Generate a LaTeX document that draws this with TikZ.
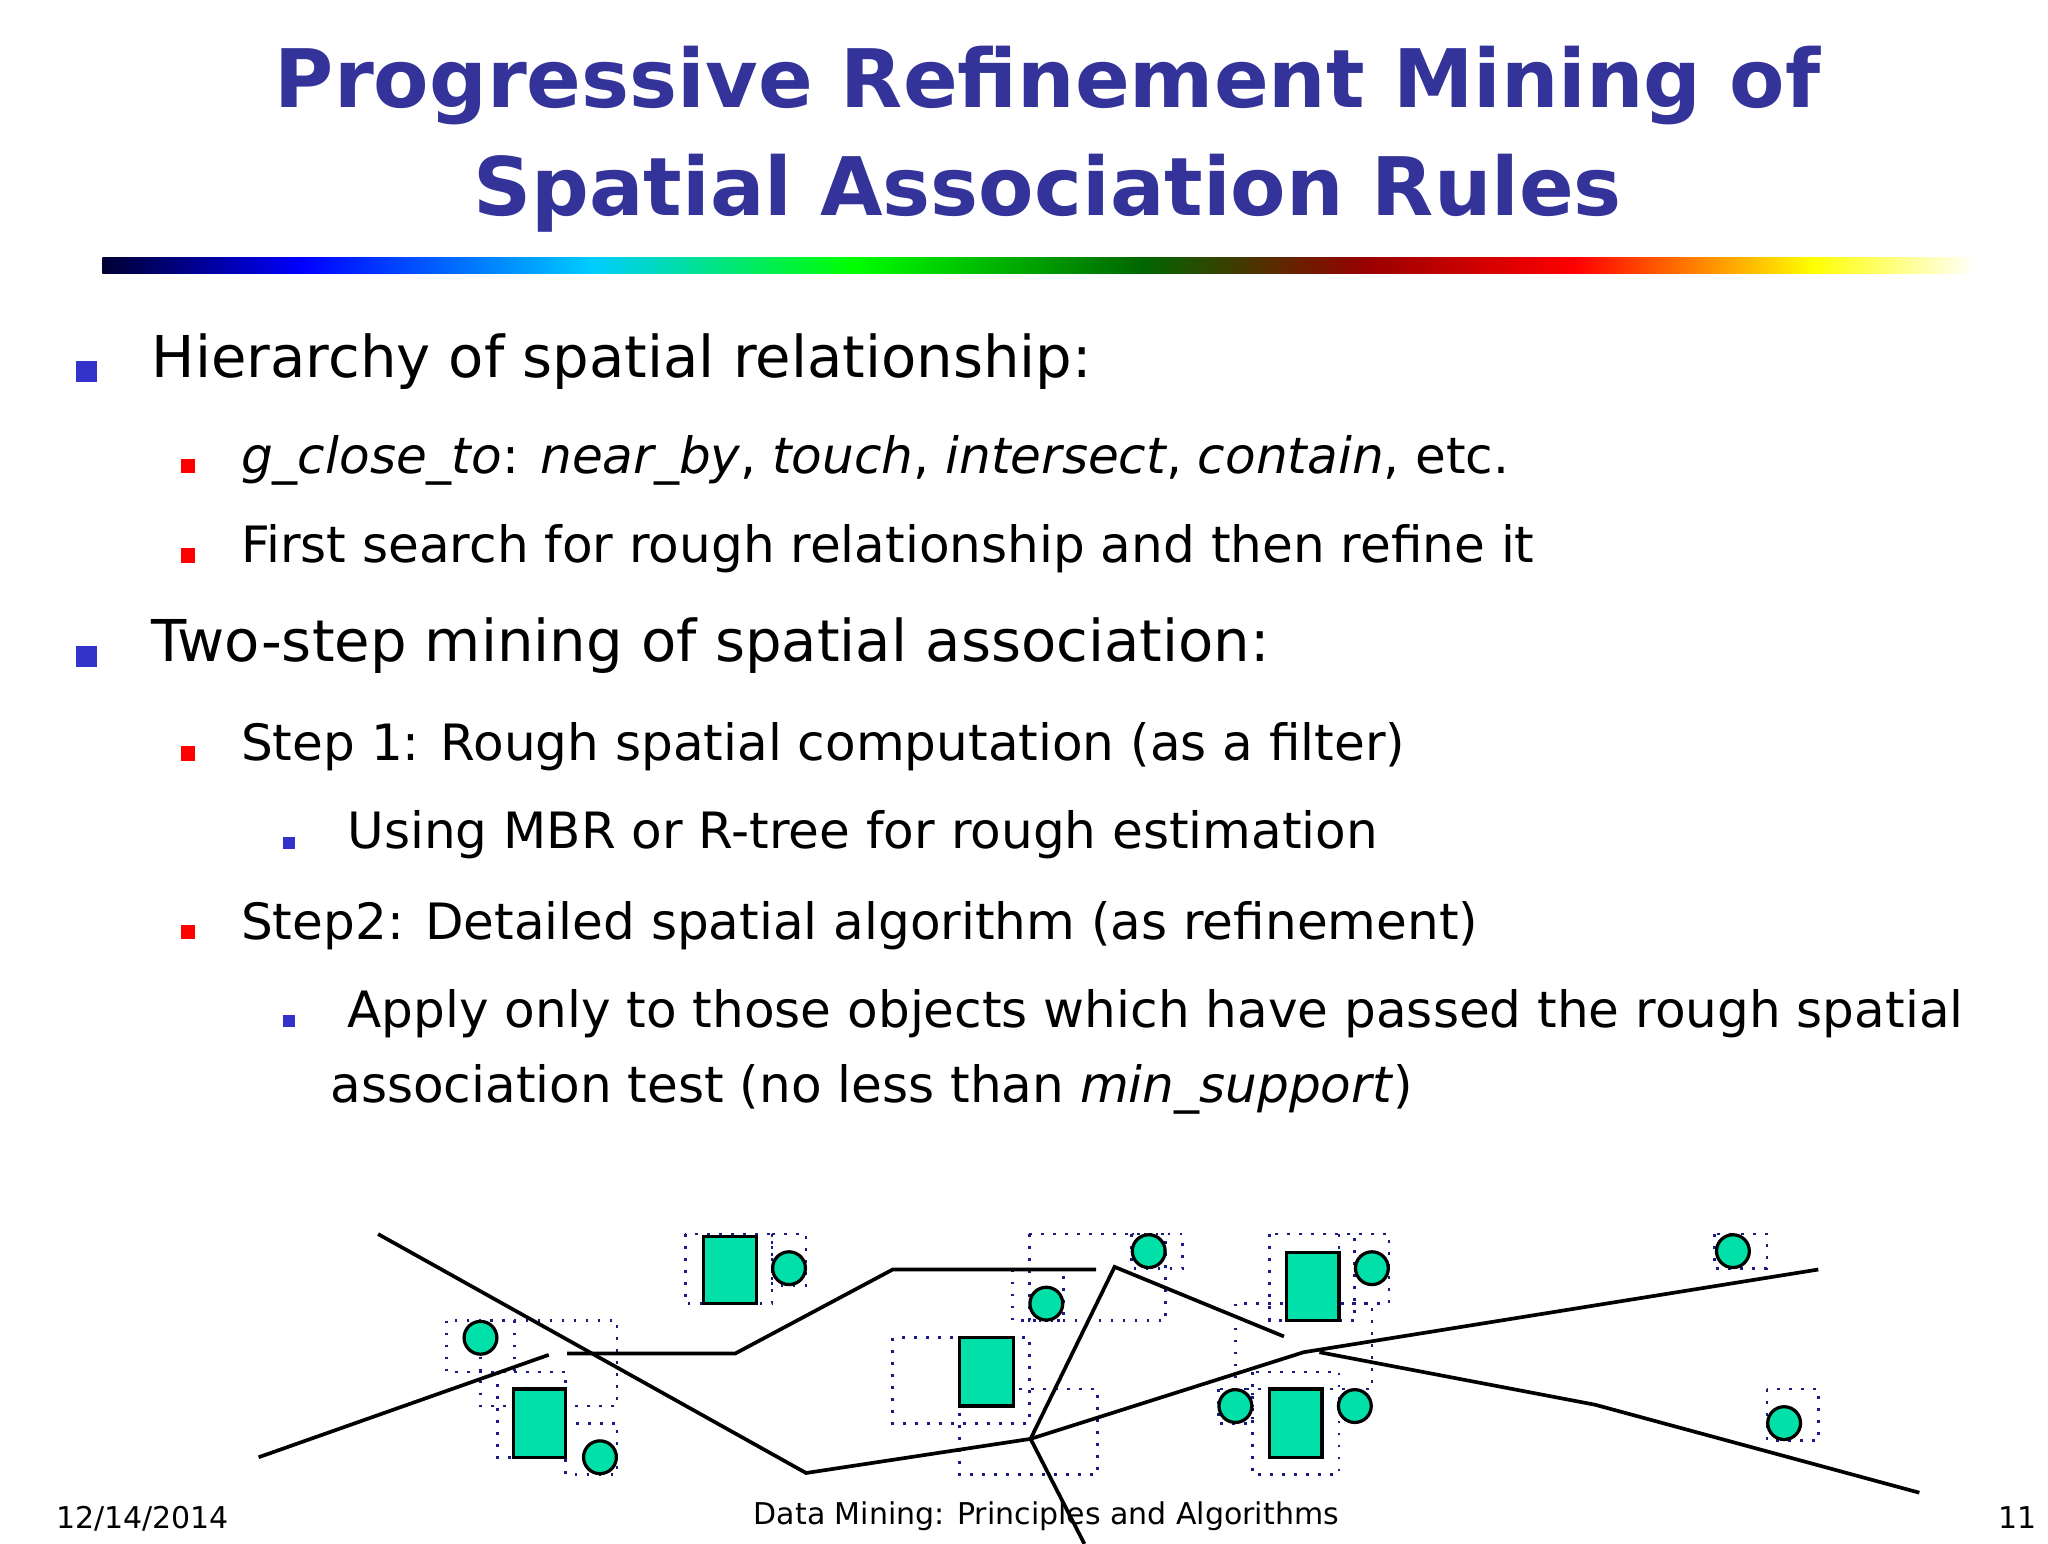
\documentclass[tikz,border=0pt]{standalone}
\usepackage{fontspec}
\setmainfont{DejaVu Sans}
\begin{document}
\begin{tikzpicture}[x=0.1mm,y=-0.1mm,
 ttl/.style={font=\fontsize{17.5}{23.6}\selectfont\bfseries,text=titleblue,align=center},
 lone/.style={anchor=mid west,font=\fontsize{12.5}{15}\selectfont,inner sep=0},
 ltwo/.style={anchor=mid west,font=\fontsize{10.85}{13}\selectfont,inner sep=0},
 bone/.style={fill=bblue,minimum size=1.6mm,inner sep=0},
 btwo/.style={fill=red,minimum size=1.1mm,inner sep=0},
 bthree/.style={fill=bblue,minimum size=0.9mm,inner sep=0},
 obj/.style={fill=objgreen,draw=black,line width=0.7pt},
 mbr/.style={draw=navy,dotted,line width=0.6pt},
 road/.style={draw=black,line width=0.8pt},
 foot/.style={font=\fontsize{6.5}{8}\selectfont,inner sep=0}]
\definecolor{titleblue}{HTML}{333399}
\definecolor{bblue}{HTML}{3333CC}
\definecolor{objgreen}{HTML}{00E0A8}
\definecolor{navy}{HTML}{1A1A80}
\useasboundingbox (0,0) rectangle (1560,1176);
\fill[white] (0,0) rectangle (1560,1176);
% title
\node[ttl] (title) at (798,106) {Progressive Refinement Mining of\\Spatial Association Rules};
% gradient bar
\foreach \a/\b/\ca/\cb [count=\i] in {78/230/black!80!blue/blue,230/450/blue/cyan!80!blue,450/650/cyan!80!blue/green,650/870/green/green!40!black,870/1040/green!40!black/red!60!black,1040/1200/red!60!black/red,1200/1380/red/yellow,1380/1505/yellow/white}
 \shade[left color=\ca,right color=\cb] (\a,196) rectangle (\b+1,208);
% bullets
\node[bone] (b1) at (66,283) {};
\node[lone] (t1) at (115,278) {Hierarchy of spatial relationship:};
\node[btwo] (b2) at (143,355) {};
\node[ltwo] (t2) at (183,351) {\textit{g\_close\_to}: \textit{near\_by}, \textit{touch}, \textit{intersect}, \textit{contain}, etc.};
\node[btwo] (b3) at (143,423) {};
\node[ltwo] (t3) at (183,419) {First search for rough relationship and then refine it};
\node[bone] (b4) at (66,500) {};
\node[lone] (t4) at (115,494) {Two-step mining of spatial association:};
\node[btwo] (b5) at (143,574) {};
\node[ltwo] (t5) at (183,570) {Step 1: Rough spatial computation (as a filter)};
\node[bthree] (b6) at (220,642) {};
\node[ltwo] (t6) at (264,637) {Using MBR or R-tree for rough estimation};
\node[btwo] (b7) at (143,710) {};
\node[ltwo] (t7) at (183,706) {Step2: Detailed spatial algorithm (as refinement)};
\node[bthree] (b8) at (220,778) {};
\node[ltwo] (t8) at (264,773) {Apply only to those objects which have passed the rough spatial};
\node[ltwo] (t9) at (251,830) {association test (no less than \textit{min\_support})};
% MBRs
\foreach \x/\y/\X/\Y in {522/940/588/993, 588/940/614/979, 340/1006/392/1045, 366/1006/470/1071, 379/1045/431/1110, 431/1084/470/1123, 680/1019/784/1084, 731/1058/836/1123, 771/967/810/1006, 784/940/888/1006, 862/940/901/966, 967/940/1032/1006, 1020/940/1058/993, 941/993/1045/1058, 954/1045/1020/1123, 928/1058/954/1084, 1306/940/1346/966, 1346/1058/1385/1097}
 \draw[mbr] (\x,\y) rectangle (\X,\Y);
% roads
\coordinate (p1) at (288,940); \coordinate (p2) at (614,1122);
\coordinate (j) at (785,1096); \coordinate (p3) at (993,1030); \coordinate (p4) at (1385,967);
\draw[road] (p1) -- (p2) -- (j) -- (p3) -- (p4);
\coordinate (h1) at (432,1031); \coordinate (h2) at (560,1031); \coordinate (h3) at (680,967); \coordinate (h4) at (835,967);
\draw[road] (h1) -- (h2) -- (h3) -- (h4);
\coordinate (l1) at (197,1110); \coordinate (l2) at (418,1032);
\draw[road] (l1) -- (l2);
\coordinate (v1) at (849,965); \coordinate (v2) at (978,1018); \coordinate (v3) at (826,1176);
\draw[road] (v2) -- (v1) -- (j) -- (v3);
\coordinate (r1) at (1005,1030); \coordinate (r2) at (1215,1070); \coordinate (r3) at (1462,1137);
\draw[road] (r1) -- (r2) -- (r3);
% objects
\foreach \x/\y/\X/\Y in {536/942/576/993, 391/1058/431/1110, 731/1019/772/1071, 980/954/1020/1006, 967/1058/1007/1110}
 \draw[obj] (\x,\y) rectangle (\X,\Y);
\foreach \x/\y in {601/966, 366/1019, 457/1110, 797/993, 875/953, 1045/966, 941/1071, 1032/1071, 1320/953, 1359/1084}
 \draw[obj] (\x,\y) circle [x radius=12.5, y radius=12.5];
% footer
\node[foot,anchor=mid west] (date) at (42,1155) {12/14/2014};
\node[foot] (ft) at (797,1155) {Data Mining: Principles and Algorithms};
\node[foot,anchor=mid east] (pg) at (1552,1155) {11};
\end{tikzpicture}
\end{document}
